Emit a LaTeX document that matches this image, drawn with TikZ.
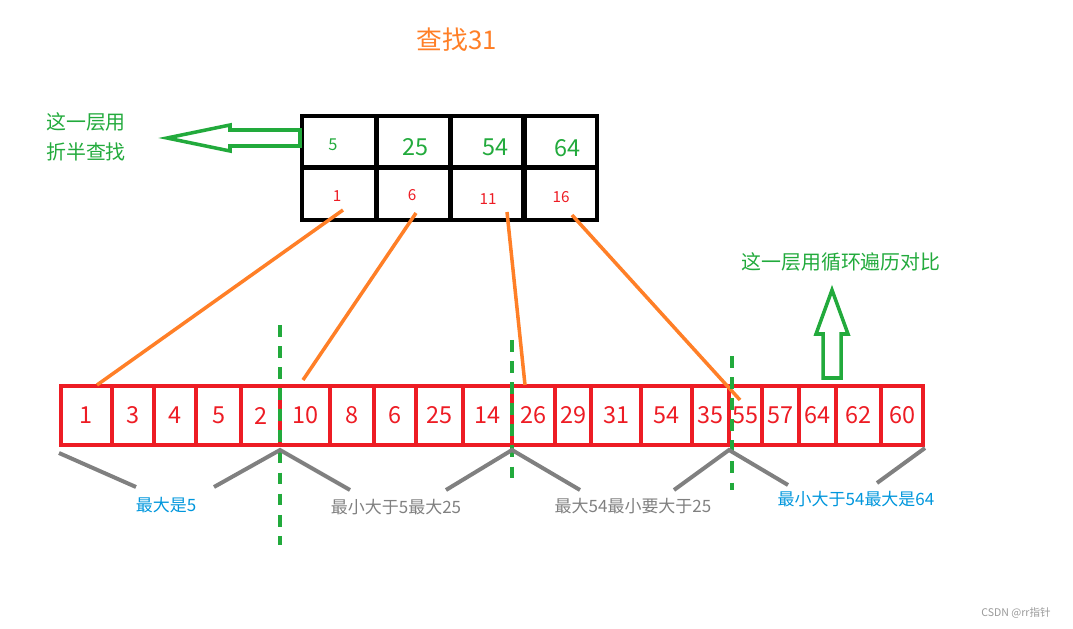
\documentclass[tikz,border=0pt]{standalone}
\usepackage{fontspec}
\setmainfont{Noto Sans CJK SC}
\begin{document}
\begin{tikzpicture}[x=0.03cm,y=-0.03cm]
\definecolor{gr}{RGB}{34,170,60}
\definecolor{bl}{RGB}{0,150,220}
\definecolor{rd}{RGB}{237,28,36}
\definecolor{og}{RGB}{255,127,39}
\tikzset{
  cell/.style={draw=rd,line width=3.4pt,minimum height=1.77cm,inner sep=0pt,text=rd,font=\fontsize{20}{20}\selectfont},
  tcell/.style={draw=black,line width=3.4pt,minimum width=2.2cm,minimum height=1.55cm,inner sep=0pt},
  orange/.style={draw=og,line width=3pt},
  gdash/.style={draw=gr,line width=2.6pt,dash pattern=on 10pt off 8pt},
  gray/.style={draw=gray,line width=3.4pt},
  garrow/.style={draw=gr,line width=3pt,fill=white}}
\useasboundingbox (0,0) rectangle (1073,629);
\node[text=og,font=\fontsize{22}{22}\selectfont] (title) at (457,40) {查找31};
% top table
\foreach \i/\x in {1/339,2/413.5,3/488,4/560}{
  \node[tcell] (t\i) at (\x,141.5) {};
  \node[tcell] (b\i) at (\x,194) {};
}
\node[text=gr,font=\fontsize{14}{14}\selectfont] (n1) at (333,145) {5};
\node[text=gr,font=\fontsize{20}{20}\selectfont] (n2) at (415,147) {25};
\node[text=gr,font=\fontsize{20}{20}\selectfont] (n3) at (495,147) {54};
\node[text=gr,font=\fontsize{20}{20}\selectfont] (n4) at (567,148) {64};
\node[text=rd,font=\fontsize{13}{13}\selectfont] (m1) at (337,196) {1};
\node[text=rd,font=\fontsize{13}{13}\selectfont] (m2) at (412,195) {6};
\node[text=rd,font=\fontsize{13}{13}\selectfont] (m3) at (488,199) {11};
\node[text=rd,font=\fontsize{13}{13}\selectfont] (m4) at (561,197) {16};
% array
\foreach \i/\a/\b/\v in {1/61/112/1,2/112/154/3,3/154/196/4,4/196/241/5,5/241/280/2,6/280/330/10,7/330/374/8,8/374/416/6,9/416/463/25,10/463/512/14,11/512/555/26,12/555/591/29,13/591/641/31,14/641/692/54,15/692/729/35,16/729/762/55,17/762/799/57,18/799/836/64,19/836/881/62,20/881/923/60}{
  \node[cell,minimum width={(\b-\a)*0.03cm}] (c\i) at ({(\a+\b)/2},415.5) {\v};
}
% orange connectors
\coordinate (e1) at (97,385); \coordinate (e2) at (303,380);
\coordinate (e3) at (525,385); \coordinate (e4) at (740,400);
\coordinate (s1) at (343,210); \coordinate (s2) at (416,213);
\coordinate (s3) at (507,212); \coordinate (s4) at (572,215);
\foreach \i in {1,...,4}{\draw[orange] (s\i) -- (e\i);}
% green dashed
\draw[gdash] (280,325) -- (280,545);
\draw[gdash] (512,340) -- (512,485);
\draw[gdash] (732,356) -- (732,490);
% gray brackets
\draw[gray] (59,453) -- (136,487);
\draw[gray] (214,487) -- (280,450) -- (350,490);
\draw[gray] (446,490) -- (512,450) -- (580,490);
\draw[gray] (674,490) -- (729,450) -- (788,485);
\draw[gray] (877,483) -- (925,448);
% labels
\node[text=bl,font=\fontsize{14.5}{14.5}\selectfont] (l1) at (166,505) {最大是5};
\node[text=gray,font=\fontsize{14.5}{14.5}\selectfont] (l2) at (396,507) {最小大于5最大25};
\node[text=gray,font=\fontsize{14.5}{14.5}\selectfont] (l3) at (633,506) {最大54最小要大于25};
\node[text=bl,font=\fontsize{14.5}{14.5}\selectfont] (l4) at (856,499) {最小大于54最大是64};
% green texts
\node[text=gr,font=\fontsize{17}{17}\selectfont,align=left] (g1) at (86,137) {这一层用\\[8pt]折半查找};
\node[text=gr,font=\fontsize{17}{17}\selectfont] (g2) at (841,262) {这一层用循环遍历对比};
% left arrow
\draw[garrow] (300,130) -- (230,130) -- (230,125) -- (167,138) -- (230,151) -- (230,146) -- (300,146) -- cycle;
% up arrow
\draw[garrow] (823,378) -- (823,334) -- (816,334) -- (832,290) -- (848,334) -- (841,334) -- (841,378) -- cycle;
\node[text=gray!80,font=\fontsize{9}{9}\selectfont] (wm) at (1016,613) {CSDN @rr指针};
\end{tikzpicture}
\end{document}
